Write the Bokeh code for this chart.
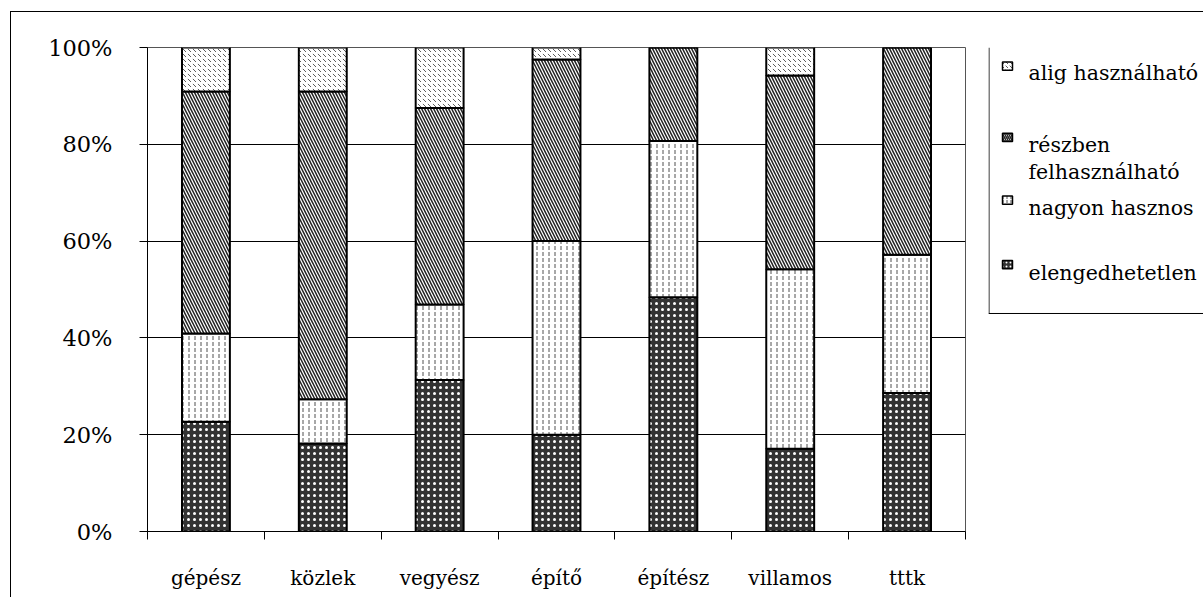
from bokeh.plotting import figure
from bokeh.layouts import row
from bokeh.models import (ColumnDataSource, FixedTicker, PrintfTickFormatter, Range1d)
from bokeh.core.properties import value
from bokeh.embed import file_html
from bokeh.resources import INLINE

# ---------------- data ----------------
categories = ["gépész", "közlek", "vegyész", "építő", "építész", "villamos", "tttk"]
elengedhetetlen = [22.7, 18.2, 31.3, 20.0, 48.4, 17.1, 28.6]
nagyon_hasznos = [18.2, 9.1, 15.6, 40.0, 32.3, 37.1, 28.6]
reszben_felhasznalhato = [50.0, 63.6, 40.6, 37.5, 19.3, 40.0, 42.8]
alig_hasznalhato = [9.1, 9.1, 12.5, 2.5, 0.0, 5.8, 0.0]
series_keys = ["elengedhetetlen", "nagyon", "reszben", "alig"]
legend_labels = ["alig használható", "részben", "felhasználható", "nagyon hasznos", "elengedhetetlen"]
y_ticks = [0, 20, 40, 60, 80, 100]

FONT = "DejaVu Serif"

# styles per series (bottom -> top)
fills = ["#333333", "white", "white", "white"]
hatches = ["dot", "vertical_dash", "left_diagonal_line", "left_diagonal_dash"]
hatch_colors = ["white", "#222222", "#222222", "#333333"]
hatch_scales = [6, 6, 6, 5]
hatch_weights = [0.5, 0.8, 1.5, 0.8]

n = len(categories)
xs = [i + 0.5 for i in range(n)]
src = ColumnDataSource(dict(x=xs, cat=categories,
                            elengedhetetlen=elengedhetetlen,
                            nagyon=nagyon_hasznos,
                            reszben=reszben_felhasznalhato,
                            alig=alig_hasznalhato))

# ---------------- main chart ----------------
p = figure(width=977, height=585, x_range=Range1d(0, n), y_range=Range1d(0, 100),
           output_backend="svg", toolbar_location=None,
           min_border_left=136, min_border_right=23, min_border_top=35, min_border_bottom=66)
p.background_fill_color = "white"
p.border_fill_color = "white"
p.outline_line_color = "#555555"
p.outline_line_width = 1

p.vbar_stack(series_keys, x="x", width=0.41, source=src,
             fill_color=fills, hatch_pattern=hatches, hatch_color=hatch_colors,
             hatch_scale=hatch_scales, hatch_weight=hatch_weights,
             line_color="black", line_width=2)

p.xaxis.ticker = FixedTicker(ticks=xs, minor_ticks=list(range(n + 1)))
p.xaxis.major_label_overrides = {x: c for x, c in zip(xs, categories)}
p.xaxis.major_tick_out = 0
p.xaxis.major_tick_in = 0
p.xaxis.minor_tick_out = 8
p.xaxis.minor_tick_in = 0
p.xaxis.minor_tick_line_color = "black"
p.xaxis.major_label_standoff = 26

p.yaxis.ticker = FixedTicker(ticks=y_ticks)
p.yaxis.formatter = PrintfTickFormatter(format="%d%%")
p.yaxis.major_tick_out = 8
p.yaxis.major_tick_in = 0
p.yaxis.minor_tick_out = 0
p.yaxis.minor_tick_in = 0
p.yaxis.major_label_standoff = 27

for ax in (p.xaxis[0], p.yaxis[0]):
    ax.axis_line_color = "black"
    ax.major_tick_line_color = "black"
    ax.major_label_text_font = FONT
    ax.major_label_text_color = "black"
p.xaxis.major_label_text_font_size = "20px"
p.yaxis.major_label_text_font_size = "22.5px"

p.xgrid.visible = False
p.ygrid.grid_line_color = "black"
p.ygrid.grid_line_width = 1

# ---------------- legend panel ----------------
LW, LH = 215, 585
lg = figure(width=LW, height=LH, x_range=Range1d(0, LW), y_range=Range1d(LH, 0),
            output_backend="svg", toolbar_location=None,
            min_border_left=0, min_border_right=0, min_border_top=0, min_border_bottom=0)
lg.axis.visible = False
lg.grid.visible = False
lg.outline_line_color = None
lg.background_fill_color = "white"
lg.border_fill_color = "white"

# legend box (left and bottom edges; top is the chart frame, right runs off the page)
box_bottom = 321
lg.segment(x0=[0.5, 0], y0=[0, box_bottom + 0.5], x1=[0.5, LW], y1=[box_bottom + 0.5, box_bottom + 0.5],
           line_color="black", line_width=1)

# swatches, top -> bottom: alig, részben, nagyon, elengedhetetlen
sw_series = [3, 2, 1, 0]
sw_top = [17.5, 103.5, 179.5, 257.5]
lg.quad(left=[14] * 4, right=[24] * 4, top=sw_top, bottom=[t + 10 for t in sw_top],
        fill_color=[fills[i] for i in sw_series],
        hatch_pattern=[hatches[i] for i in sw_series],
        hatch_color=[hatch_colors[i] for i in sw_series],
        hatch_scale=4, hatch_weight=[hatch_weights[i] for i in sw_series],
        line_color="black", line_width=1.5)

lab_y = [31, 118, 150, 194, 273]
lg.text(x=[40] * len(legend_labels), y=lab_y, text=legend_labels,
        text_font=value(FONT), text_font_size="20.5px", text_color="black",
        text_baseline="alphabetic", text_align="left")

layout = row(p, lg, spacing=0)
layout.styles = {"margin-left": "10px", "margin-top": "11px",
                 "border-left": "1px solid black", "border-top": "1px solid black",
                 "gap": "0px"}

open("out.html", "w").write(file_html(layout, INLINE))
